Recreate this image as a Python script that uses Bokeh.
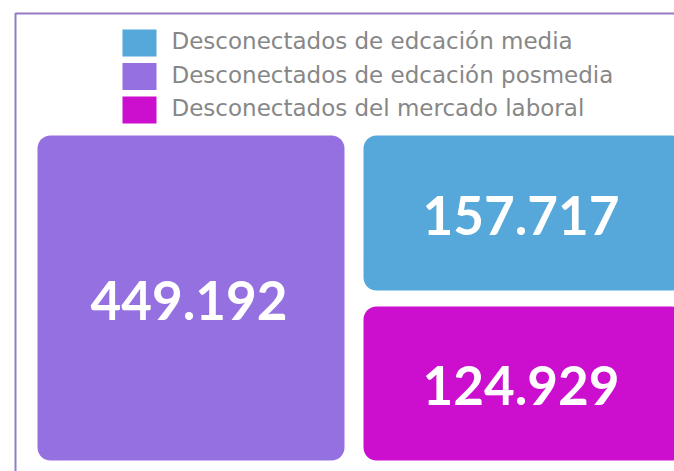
from bokeh.plotting import figure
from bokeh.models import Range1d, ColumnDataSource
from bokeh.core.properties import value
from bokeh.embed import file_html
from bokeh.resources import INLINE

# ---- data ----
categories = ["Desconectados de edcación media",
              "Desconectados de edcación posmedia",
              "Desconectados del mercado laboral"]
values = [157717, 449192, 124929]
colors = ["#55a8d9", "#9570e0", "#cc0ecf"]

def fmt(v):
    return f"{v:,}".replace(",", ".")

W, H = 674, 471

# ---- layout (screen-space units, y downward) ----
# tile boxes: left, right, top, bottom
tile_boxes = {
    "Desconectados de edcación posmedia": (37, 344, 135, 460),
    "Desconectados de edcación media": (363, 684, 135, 290),
    "Desconectados del mercado laboral": (363, 684, 306, 460),
}

p = figure(width=W, height=H, output_backend="svg", toolbar_location=None,
           x_range=Range1d(0, W), y_range=Range1d(H, 0), min_border=0)
p.axis.visible = False
p.grid.visible = False
p.outline_line_color = None
p.background_fill_color = "white"
p.border_fill_color = "white"

# frame border (only top and left visible)
p.quad(left=[15], right=[W + 40], top=[13], bottom=[H + 40],
       fill_color=None, line_color="#957bc4", line_width=2)

# tiles
L, R, T, B, C, lab, lx, ly = [], [], [], [], [], [], [], []
for cat, v, c in zip(categories, values, colors):
    l, r, t, b = tile_boxes[cat]
    L.append(l); R.append(r); T.append(t); B.append(b); C.append(c)
    lab.append(fmt(v))
    lx.append((min(r, 682) + l) / 2 - 2)
    ly.append((t + b) / 2 + 2)

src = ColumnDataSource(dict(left=L, right=R, top=T, bottom=B, color=C,
                            label=lab, lx=lx, ly=ly))
p.quad(left="left", right="right", top="top", bottom="bottom",
       fill_color="color", line_color=None, border_radius=13, source=src)
p.text(x="lx", y="ly", text="label", source=src, text_color="white",
       text_font=value("Lato"), text_font_style="bold", text_font_size="53px",
       text_align="center", text_baseline="middle")

# legend
lg_x0, lg_x1 = 122, 156
lg_y0, lg_h, lg_step = 29, 27, 33.5
ly0 = [lg_y0 + i * lg_step for i in range(len(categories))]
lsrc = ColumnDataSource(dict(
    left=[lg_x0] * len(categories), right=[lg_x1] * len(categories),
    top=ly0, bottom=[y + lg_h for y in ly0], color=colors,
    tx=[171] * len(categories), ty=[y + lg_h / 2 - 2 for y in ly0],
    label=categories))
p.quad(left="left", right="right", top="top", bottom="bottom",
       fill_color="color", line_color=None, source=lsrc)
p.text(x="tx", y="ty", text="label", source=lsrc, text_color="#878787",
       text_font=value("DejaVu Sans"), text_font_size="23px",
       text_align="left", text_baseline="middle")

open("out.html", "w").write(file_html(p, INLINE))
